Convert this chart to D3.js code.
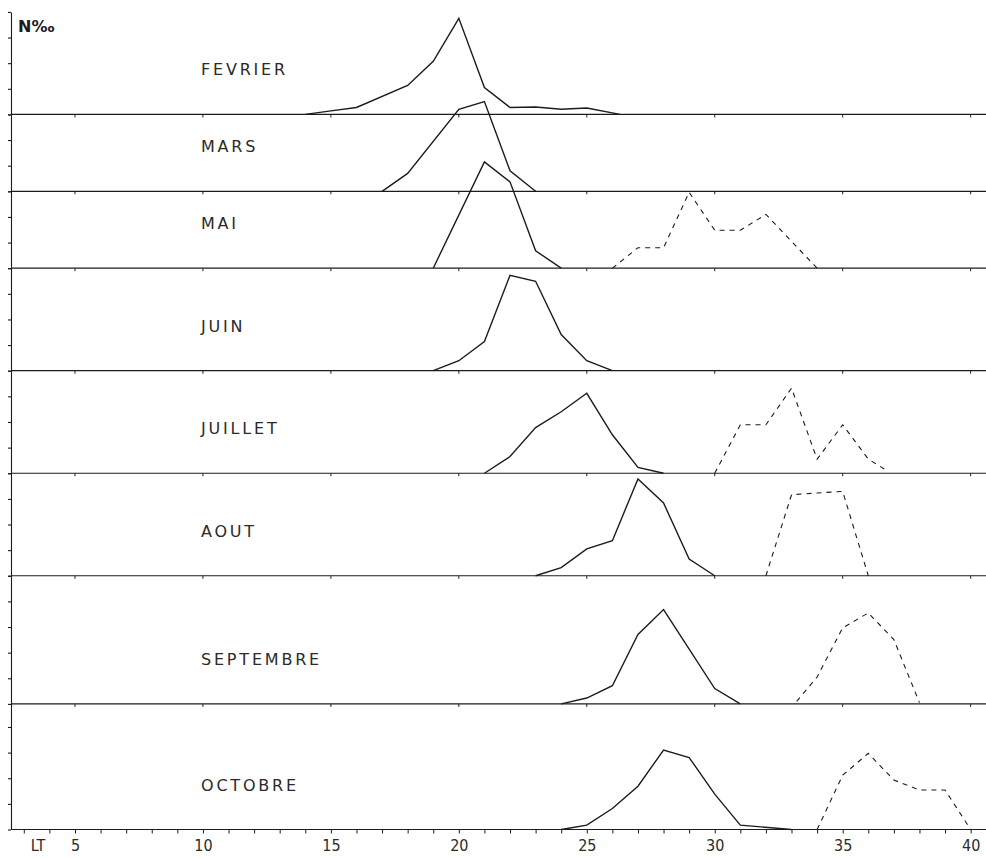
<!DOCTYPE html>
<html>
<head>
<meta charset="utf-8">
<script src="https://cdn.jsdelivr.net/npm/d3@7/dist/d3.min.js"></script>
<style>
  html, body { margin: 0; padding: 0; background: #fff; }
  svg { display: block; }
  .month { font-family: "DejaVu Sans", sans-serif; font-size: 16px; letter-spacing: 2.8px; fill: #2a2a2a; }
  .tick-lbl { font-family: "DejaVu Sans", sans-serif; font-stretch: condensed; font-size: 16px; fill: #2a2a2a; }
</style>
</head>
<body>
<svg id="chart" width="986" height="858"></svg>
<script>
// Length-frequency distributions (N per mille) by month, length classes LT
const months = ["FEVRIER", "MARS", "MAI", "JUIN", "JUILLET", "AOUT", "SEPTEMBRE", "OCTOBRE"];

// vertical room given to each monthly panel, in per mille
const panelRange = [400, 300, 300, 400, 400, 400, 500, 490];

// main cohort (solid line)
const mainLT = [
  [14, 15, 16, 18, 19, 20, 21, 22, 23, 24, 25, 26.3],
  [17, 18, 20, 21, 22, 23],
  [19, 21, 22, 23, 24],
  [19, 20, 21, 22, 23, 24, 25, 26],
  [21, 22, 23, 24, 25, 26, 27, 28],
  [23, 24, 25, 26, 27, 28, 29, 30],
  [24, 25, 26, 27, 28, 30, 31],
  [24, 25, 26, 27, 28, 29, 30, 31, 33]
];
const mainN = [
  [0, 14, 27, 113, 207, 375, 105, 27, 29, 20, 25, 0],
  [0, 70, 320, 350, 80, 0],
  [0, 415, 337, 68, 0],
  [0, 39, 114, 372, 349, 141, 39, 0],
  [0, 65, 178, 240, 312, 150, 23, 0],
  [0, 32, 105, 137, 378, 284, 65, 0],
  [0, 23, 71, 271, 368, 60, 0],
  [0, 17, 82, 169, 310, 281, 138, 17, 0]
];

// older cohort (dashed line); empty where absent
const secondLT = [
  [],
  [],
  [26, 27, 28, 29, 30, 31, 32, 34],
  [],
  [30, 31, 32, 33, 34, 35, 36, 36.7],
  [32, 33, 34, 35, 36],
  [33.2, 34, 35, 36, 37, 38],
  [34, 35, 36, 37, 38, 39, 40]
];
const secondN = [
  [],
  [],
  [0, 80, 80, 296, 148, 148, 210, 0],
  [],
  [0, 189, 189, 332, 55, 189, 55, 12],
  [0, 316, 323, 329, 0],
  [10, 105, 297, 355, 251, 5],
  [0, 212, 297, 193, 154, 154, 0]
];

// bottom axis
const ltTicks = d3.range(3, 41);
const ltLabels = [5, 10, 15, 20, 25, 30, 35, 40];

const svg = d3.select("#chart");
const ink = "#1c1c1c";

const x = d3.scaleLinear().domain([2.5, 40.6]).range([11, 986]);

// stacked vertical scale: panels piled from bottom (OCTOBRE) to top (FEVRIER)
const total = d3.sum(panelRange);
const yStack = d3.scaleLinear().domain([0, total]).range([829.5, 11.9]);
const baseOffset = panelRange.map((_, i) => d3.sum(panelRange.slice(i + 1)));

// left axis with a tick every 100 per mille inside each panel
const leftTicks = [];
panelRange.forEach((r, i) => {
  for (let v = 0; v <= r; v += 100) leftTicks.push(baseOffset[i] + v);
});
const leftAxis = d3.axisLeft(yStack).tickValues(leftTicks).tickSize(3).tickSizeOuter(0).tickFormat("");
svg.append("g").attr("transform", `translate(${x(2.5)},0)`).call(leftAxis)
  .call(g => g.selectAll("path, line").attr("stroke", ink).attr("stroke-width", 1.1));

// panel baselines with small marks every 5 units
const panels = svg.selectAll("g.panel").data(months).join("g").attr("class", "panel");

panels.append("line")
  .attr("x1", x(2.5)).attr("x2", x(40.6))
  .attr("y1", (d, i) => yStack(baseOffset[i])).attr("y2", (d, i) => yStack(baseOffset[i]))
  .attr("stroke", ink).attr("stroke-width", 1.2);

panels.each(function (d, i) {
  const g = d3.select(this);
  if (i < months.length - 1) {
    g.selectAll("line.mark").data(ltLabels).join("line").attr("class", "mark")
      .attr("x1", v => x(v)).attr("x2", v => x(v))
      .attr("y1", yStack(baseOffset[i])).attr("y2", yStack(baseOffset[i]) + 3)
      .attr("stroke", ink).attr("stroke-width", 1);
  }
  const y = v => yStack(baseOffset[i] + v);
  const line = d3.line().x(p => x(p[0])).y(p => y(p[1]));

  const main = mainLT[i].map((lt, k) => [lt, mainN[i][k]]);
  g.append("path").attr("d", line(main))
    .attr("fill", "none").attr("stroke", ink).attr("stroke-width", 1.4).attr("stroke-linejoin", "miter");

  if (secondLT[i].length) {
    const second = secondLT[i].map((lt, k) => [lt, secondN[i][k]]);
    g.append("path").attr("d", line(second))
      .attr("fill", "none").attr("stroke", ink).attr("stroke-width", 1.1)
      .attr("stroke-dasharray", "5,5");
  }

  g.append("text").attr("class", "month")
    .attr("x", 201).attr("y", y(152))
    .text(d);
});

// bottom length axis
const bottomAxis = d3.axisBottom(x).tickValues(ltTicks).tickSize(4).tickSizeOuter(0)
  .tickPadding(6).tickFormat(v => ltLabels.includes(v) ? v : "");
svg.append("g").attr("transform", `translate(0,${yStack(0)})`).call(bottomAxis)
  .call(g => g.select(".domain").remove())
  .call(g => g.selectAll("line").attr("stroke", ink).attr("stroke-width", 1))
  .call(g => g.selectAll("text").attr("class", "tick-lbl").attr("font-size", null).attr("font-family", null).attr("fill", null));

svg.append("text").attr("class", "tick-lbl")
  .attr("x", 38).attr("y", yStack(0) + 10).attr("dy", "0.71em").attr("text-anchor", "middle")
  .text("LT");

// unit of the vertical axis
svg.append("text")
  .attr("x", 18).attr("y", 32)
  .attr("font-family", "DejaVu Sans, sans-serif").attr("font-weight", "bold").attr("font-size", 16)
  .attr("fill", ink)
  .text("N‰");
</script>
</body>
</html>
